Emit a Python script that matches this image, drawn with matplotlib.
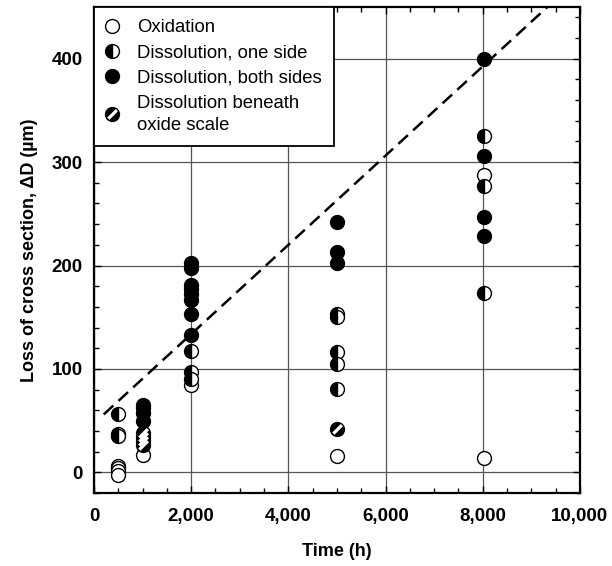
import numpy as np
import matplotlib
matplotlib.use("Agg")
import matplotlib.pyplot as plt
from matplotlib.lines import Line2D
from matplotlib.markers import MarkerStyle
from matplotlib.path import Path
from matplotlib.legend_handler import HandlerTuple
from matplotlib.ticker import MultipleLocator, FuncFormatter

plt.rcParams["font.family"] = ["Liberation Sans", "DejaVu Sans"]

# exposure time (h) and loss of cross section (um), grouped by attack mode
oxid_t = [500, 500, 500, 500, 1000, 2000, 5000, 8030, 8030]
oxid_d = [6, 4, 1, -3, 17, 84, 16, 288, 14]

one_t = [500, 500, 500, 2000, 2000, 2000, 5000, 5000, 5000, 5000, 5000, 8030, 8030, 8030]
one_d = [56, 37, 35, 117, 97, 90, 153, 150, 116, 105, 81, 325, 277, 173]

both_t = [1000, 1000, 1000, 1000, 2000, 2000, 2000, 2000, 2000, 2000, 2000, 2000,
          5000, 5000, 5000, 8030, 8030, 8030, 8030]
both_d = [65, 62, 57, 50, 202, 198, 181, 177, 172, 167, 153, 133,
          242, 213, 202, 400, 306, 247, 229]

scale_t = [1000, 1000, 1000, 1000, 5000]
scale_d = [38, 34, 30, 26, 42]

# linear trend line
fit_t = [200, 9400]
fit_d = [56, 453]

MS = 10
MEW = 1.0

# white diagonal stripe used for the "beneath oxide scale" symbol
half_w = 0.26
r = 0.9
uu = np.sqrt(1 - half_w ** 2)
a = np.arcsin(half_w)
arc1 = np.linspace(a, -a, 12)
arc2 = np.linspace(np.pi - a, np.pi + a, 12)
u = np.concatenate([[-uu, uu], np.cos(arc1), [uu, -uu], np.cos(arc2)])
v = np.concatenate([[half_w, half_w], np.sin(arc1), [-half_w, -half_w], np.sin(arc2)])
bx = (u - v) / np.sqrt(2)
by = (u + v) / np.sqrt(2)
band_verts = np.column_stack([bx, by])
band_path = Path(np.vstack([band_verts, band_verts[:1]]), closed=True)
band_ms = MS * r * np.max(np.abs(band_verts))
band_marker = MarkerStyle(band_path)

fig = plt.figure(figsize=(6.12, 5.66), dpi=100)
ax = fig.add_axes([0.1536, 0.129, 0.794, 0.8586])

ax.plot(fit_t, fit_d, color="black", lw=1.8, dashes=(5.2, 2.8), zorder=3)

style = dict(ls="none", ms=MS, mec="black", mew=MEW, zorder=4)
ax.plot(oxid_t, oxid_d, marker="o", mfc="white", **style)
ax.plot(one_t, one_d, marker="o", mfc="black", fillstyle="left",
        markerfacecoloralt="white", **style)
ax.plot(both_t, both_d, marker="o", mfc="black", **style)
ax.plot(scale_t, scale_d, marker="o", mfc="black", **style)
ax.plot(scale_t, scale_d, ls="none", marker=band_marker, ms=band_ms,
        mfc="white", mew=0, zorder=5)

ax.set_xlim(0, 10000)
ax.set_ylim(-20, 450)
ax.xaxis.set_major_locator(MultipleLocator(2000))
ax.xaxis.set_minor_locator(MultipleLocator(500))
ax.yaxis.set_major_locator(MultipleLocator(100))
ax.yaxis.set_minor_locator(MultipleLocator(20))
ax.xaxis.set_major_formatter(FuncFormatter(lambda x, p: f"{int(x):,}"))
ax.tick_params(which="both", direction="in", top=True, right=True, width=1)
ax.tick_params(which="major", length=5, labelsize=13.5, pad=8)
ax.tick_params(axis="x", which="major", pad=11)
ax.tick_params(which="minor", length=3.5)
for lab in ax.get_xticklabels() + ax.get_yticklabels():
    lab.set_fontweight("bold")
for s in ax.spines.values():
    s.set_linewidth(1.6)
ax.grid(which="major", color="#555555", lw=0.9)
ax.set_axisbelow(True)

ax.set_xlabel("Time (h)", fontsize=13, fontweight="bold", labelpad=13)
ax.set_ylabel("Loss of cross section, \u0394D (\u00b5m)", fontsize=13,
              fontweight="bold", labelpad=10)

h_ox = Line2D([], [], ls="none", marker="o", ms=MS, mfc="white", mec="black", mew=MEW)
h_one = Line2D([], [], ls="none", marker="o", ms=MS, mfc="black", fillstyle="left",
               markerfacecoloralt="white", mec="black", mew=MEW)
h_both = Line2D([], [], ls="none", marker="o", ms=MS, mfc="black", mec="black", mew=MEW)
h_sc1 = Line2D([], [], ls="none", marker="o", ms=MS, mfc="black", mec="black", mew=MEW)
h_sc2 = Line2D([], [], ls="none", marker=band_marker, ms=band_ms, mfc="white", mew=0)
leg = ax.legend([h_ox, h_one, h_both, (h_sc1, h_sc2)],
                ["Oxidation", "Dissolution, one side", "Dissolution, both sides",
                 "Dissolution beneath\noxide scale"],
                handler_map={tuple: HandlerTuple(ndivide=1)},
                loc="upper left", borderaxespad=0, fontsize=13.3, numpoints=1,
                handlelength=0.6, handletextpad=1.08, labelspacing=0.45,
                borderpad=0.65, fancybox=False, framealpha=1, edgecolor="black")
for t in leg.get_texts():
    t.set_linespacing(1.35)
leg.get_frame().set_linewidth(1.3)
leg.set_zorder(6)

fig.savefig("out.png", dpi=100)
